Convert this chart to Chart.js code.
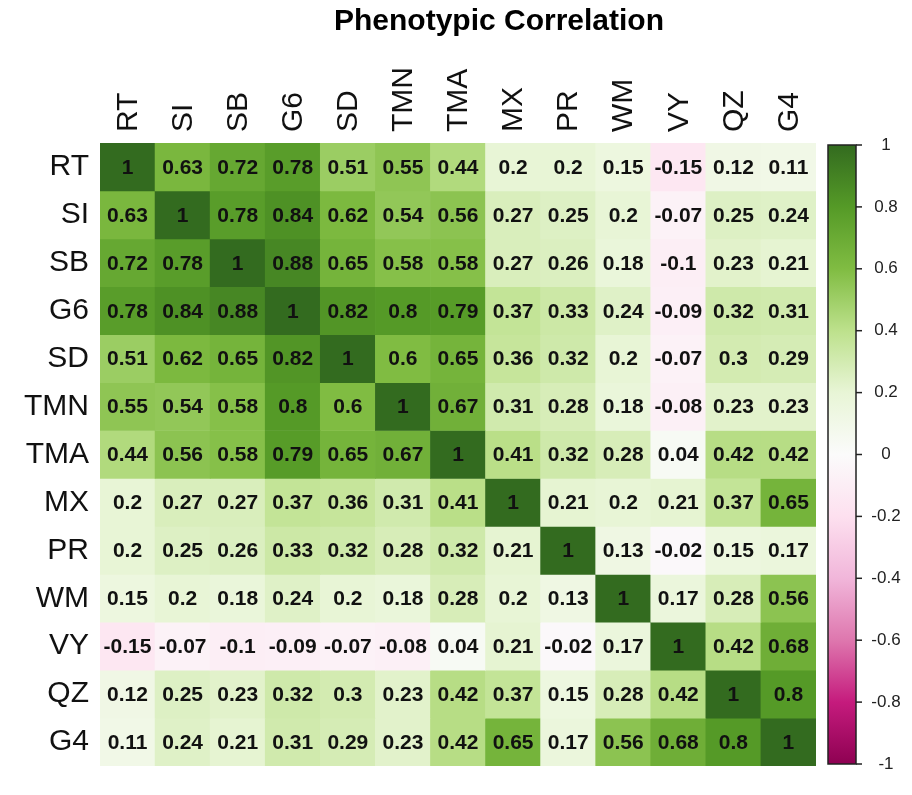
<!DOCTYPE html>
<html>
<head>
<meta charset="utf-8">
<title>Phenotypic Correlation</title>
<script src="https://cdn.jsdelivr.net/npm/chart.js@4.4.1/dist/chart.umd.min.js"></script>
<style>
  html, body { margin: 0; padding: 0; background: #fff; }
  canvas { display: block; }
</style>
</head>
<body>
<canvas id="corrChart" width="912" height="795"></canvas>
<script>
// trait names, same order on both axes
const traits = ['RT', 'SI', 'SB', 'G6', 'SD', 'TMN', 'TMA', 'MX', 'PR', 'WM', 'VY', 'QZ', 'G4'];

// one row of the correlation matrix per trait
const rowRT  = [1, 0.63, 0.72, 0.78, 0.51, 0.55, 0.44, 0.2, 0.2, 0.15, -0.15, 0.12, 0.11];
const rowSI  = [0.63, 1, 0.78, 0.84, 0.62, 0.54, 0.56, 0.27, 0.25, 0.2, -0.07, 0.25, 0.24];
const rowSB  = [0.72, 0.78, 1, 0.88, 0.65, 0.58, 0.58, 0.27, 0.26, 0.18, -0.1, 0.23, 0.21];
const rowG6  = [0.78, 0.84, 0.88, 1, 0.82, 0.8, 0.79, 0.37, 0.33, 0.24, -0.09, 0.32, 0.31];
const rowSD  = [0.51, 0.62, 0.65, 0.82, 1, 0.6, 0.65, 0.36, 0.32, 0.2, -0.07, 0.3, 0.29];
const rowTMN = [0.55, 0.54, 0.58, 0.8, 0.6, 1, 0.67, 0.31, 0.28, 0.18, -0.08, 0.23, 0.23];
const rowTMA = [0.44, 0.56, 0.58, 0.79, 0.65, 0.67, 1, 0.41, 0.32, 0.28, 0.04, 0.42, 0.42];
const rowMX  = [0.2, 0.27, 0.27, 0.37, 0.36, 0.31, 0.41, 1, 0.21, 0.2, 0.21, 0.37, 0.65];
const rowPR  = [0.2, 0.25, 0.26, 0.33, 0.32, 0.28, 0.32, 0.21, 1, 0.13, -0.02, 0.15, 0.17];
const rowWM  = [0.15, 0.2, 0.18, 0.24, 0.2, 0.18, 0.28, 0.2, 0.13, 1, 0.17, 0.28, 0.56];
const rowVY  = [-0.15, -0.07, -0.1, -0.09, -0.07, -0.08, 0.04, 0.21, -0.02, 0.17, 1, 0.42, 0.68];
const rowQZ  = [0.12, 0.25, 0.23, 0.32, 0.3, 0.23, 0.42, 0.37, 0.15, 0.28, 0.42, 1, 0.8];
const rowG4  = [0.11, 0.24, 0.21, 0.31, 0.29, 0.23, 0.42, 0.65, 0.17, 0.56, 0.68, 0.8, 1];

const matrix = [rowRT, rowSI, rowSB, rowG6, rowSD, rowTMN, rowTMA, rowMX, rowPR, rowWM, rowVY, rowQZ, rowG4];

// colour bar tick labels
const barTicks = [1, 0.8, 0.6, 0.4, 0.2, 0, -0.2, -0.4, -0.6, -0.8, -1];

// PiYG-like palette (value -> colour)
const paletteStops  = [-1, -0.8, -0.6, -0.4, -0.2, 0, 0.2, 0.4, 0.6, 0.8, 1];
const paletteColors = ['#8e0152', '#c51b7d', '#de77ae', '#f1b6da', '#fde0ef', '#fbfbfb',
                       '#e8f5d6', '#bde18c', '#80bc42', '#559a27', '#336b1f'];

const FONT = '"Liberation Sans", Arial, Helvetica, sans-serif';

function hexToRgb(h) {
    const n = parseInt(h.slice(1), 16);
    return [(n >> 16) & 255, (n >> 8) & 255, n & 255];
}

function corrColor(v) {
    for (let i = 0; i < paletteStops.length - 1; i++) {
        if (v <= paletteStops[i + 1]) {
            const t = (v - paletteStops[i]) / (paletteStops[i + 1] - paletteStops[i]);
            const a = hexToRgb(paletteColors[i]), b = hexToRgb(paletteColors[i + 1]);
            const c = a.map((x, k) => Math.round(x + (b[k] - x) * t));
            return `rgb(${c[0]}, ${c[1]}, ${c[2]})`;
        }
    }
    return paletteColors[paletteColors.length - 1];
}

// title, centred a bit right of the grid like the original figure
const titlePlugin = {
    id: 'plotTitle',
    afterDraw(chart) {
        const ctx = chart.ctx;
        ctx.save();
        ctx.font = `bold 30px ${FONT}`;
        ctx.fillStyle = '#000';
        ctx.textAlign = 'center';
        ctx.textBaseline = 'middle';
        ctx.fillText('Phenotypic Correlation', chart.chartArea.left + 399, 22);
        ctx.restore();
    }
};

// numbers inside each cell
const cellLabels = {
    id: 'cellLabels',
    afterDatasetsDraw(chart) {
        const ctx = chart.ctx;
        ctx.save();
        ctx.font = `bold 21px ${FONT}`;
        ctx.fillStyle = '#111';
        ctx.textAlign = 'center';
        ctx.textBaseline = 'middle';
        chart.data.datasets.forEach((ds, r) => {
            const meta = chart.getDatasetMeta(r);
            meta.data.forEach((bar, c) => {
                ctx.fillText(String(matrix[r][c]), bar.x, (bar.y + bar.base) / 2 + 1);
            });
        });
        ctx.restore();
    }
};

// colour bar on the right
const colorBar = {
    id: 'colorBar',
    afterDraw(chart) {
        const ctx = chart.ctx;
        const area = chart.chartArea;
        const left = area.right + 12;
        const width = 28;
        const top = area.top + 2;
        const bottom = area.bottom - 2;
        const h = bottom - top;

        const grad = ctx.createLinearGradient(0, bottom, 0, top);
        paletteStops.forEach((s, i) => grad.addColorStop((s + 1) / 2, paletteColors[i]));

        ctx.save();
        ctx.fillStyle = grad;
        ctx.fillRect(left, top, width, h);
        ctx.strokeStyle = '#222';
        ctx.lineWidth = 1.5;
        ctx.strokeRect(left, top, width, h);

        ctx.font = `17px ${FONT}`;
        ctx.fillStyle = '#222';
        ctx.textAlign = 'center';
        ctx.textBaseline = 'middle';
        barTicks.forEach(v => {
            const y = top + (1 - v) / 2 * h;
            ctx.beginPath();
            ctx.moveTo(left + width, y);
            ctx.lineTo(left + width + 6, y);
            ctx.stroke();
            ctx.fillText(String(v), left + width + 30, y);
        });
        ctx.restore();
    }
};

document.addEventListener('DOMContentLoaded', () => {
    const ctx = document.getElementById('corrChart').getContext('2d');

    const datasets = matrix.map((vals, r) => ({
        label: traits[r],
        data: vals.map(() => [r, r + 1]),
        backgroundColor: vals.map(corrColor),
        borderWidth: 0,
        barPercentage: 1,
        categoryPercentage: 1,
        grouped: false
    }));

    new Chart(ctx, {
        type: 'bar',
        data: { labels: traits, datasets: datasets },
        options: {
            responsive: false,
            animation: false,
            layout: { padding: { left: 0, right: 96, top: 38, bottom: 7 } },
            scales: {
                x: {
                    position: 'top',
                    grid: { display: false, drawTicks: false },
                    border: { display: false },
                    ticks: {
                        autoSkip: false,
                        minRotation: 90,
                        maxRotation: 90,
                        padding: 11,
                        labelOffset: 37,
                        color: '#111',
                        font: { family: FONT, size: 30 }
                    },
                    afterFit: s => { s.height = 105; }
                },
                y: {
                    min: 0,
                    max: traits.length,
                    reverse: true,
                    grid: { display: false, drawTicks: false },
                    border: { display: false },
                    afterBuildTicks: s => {
                        s.ticks = traits.map((_, i) => ({ value: i + 0.5 }));
                    },
                    ticks: {
                        padding: 11,
                        color: '#111',
                        font: { family: FONT, size: 30 },
                        callback: v => traits[Math.floor(v)]
                    },
                    afterFit: s => { s.width = 100; }
                }
            },
            plugins: {
                legend: { display: false },
                tooltip: { enabled: false },
                title: { display: false }
            }
        },
        plugins: [cellLabels, colorBar, titlePlugin]
    });
});
</script>
</body>
</html>
